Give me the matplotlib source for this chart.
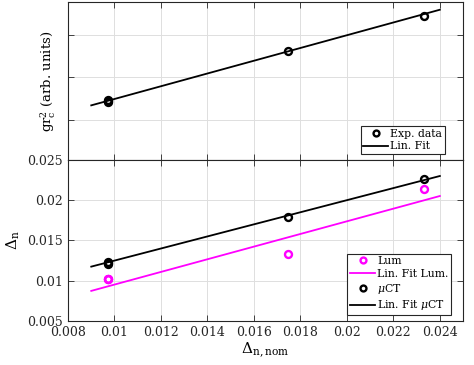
import matplotlib.pyplot as plt

plt.rcParams["font.family"] = "DejaVu Serif"
plt.rcParams["mathtext.fontset"] = "dejavuserif"
plt.rcParams["font.size"] = 9

# Data
x_pts = [0.00973, 0.00973, 0.00973, 0.01745, 0.02331]
gr2_pts = [1.465, 1.44, 1.411, 2.629, 3.456]
ct_pts = [0.0123, 0.01215, 0.0120, 0.01795, 0.02264]
lum_pts = [0.01016, 0.01016, 0.01016, 0.01331, 0.02136]

fit_x = [0.009, 0.024]
fit_gr2 = [1.340, 3.597]
fit_ct = [0.01173, 0.02301]
fit_lum = [0.00871, 0.02052]

xticks = [0.008, 0.010, 0.012, 0.014, 0.016, 0.018, 0.020, 0.022, 0.024]
xticklabels = ["0.008", "0.01", "0.012", "0.014", "0.016", "0.018", "0.02", "0.022", "0.024"]
yticks = [0.005, 0.010, 0.015, 0.020, 0.025]
yticklabels = ["0.005", "0.01", "0.015", "0.02", "0.025"]

fig = plt.figure(figsize=(4.74, 3.65), dpi=100)
ax1 = fig.add_axes([0.1435, 0.5616, 0.8335, 0.433])
ax2 = fig.add_axes([0.1435, 0.1214, 0.8335, 0.4402])

mk = dict(marker="o", linestyle="none", markersize=5, markerfacecolor="none",
          markeredgewidth=1.7)

ax1.plot(x_pts, gr2_pts, color="black", label="Exp. data", **mk)
ax1.plot(fit_x, fit_gr2, color="black", lw=1.3, label="Lin. Fit")
ax1.set_ylim(0.05, 3.78)
ax1.set_yticks([1, 2, 3])
ax1.set_yticklabels([])
ax1.set_ylabel(r"$\mathrm{gr_c^2}$ (arb. units)", fontsize=9.5)

ax2.plot(x_pts, lum_pts, color="#ff00ff", label="Lum", **mk)
ax2.plot(fit_x, fit_lum, color="#ff00ff", lw=1.3, label="Lin. Fit Lum.")
ax2.plot(x_pts, ct_pts, color="black", label=r"$\mu$CT", **mk)
ax2.plot(fit_x, fit_ct, color="black", lw=1.3, label=r"Lin. Fit $\mu$CT")
ax2.set_ylim(0.005, 0.025)
ax2.set_yticks(yticks)
ax2.set_yticklabels(yticklabels)
ax2.set_ylabel(r"$\Delta_\mathrm{n}$", fontsize=11)
ax2.set_xlabel(r"$\Delta_\mathrm{n,nom}$", fontsize=11, labelpad=1)

anchors = [(0.954, 0.038), (0.970, 0.035)]
for ax, anc in zip((ax1, ax2), anchors):
    ax.set_xlim(0.008, 0.025)
    ax.set_xticks(xticks)
    ax.grid(True, color="#dedede", lw=0.7)
    ax.set_axisbelow(True)
    ax.tick_params(direction="in", top=True, right=True, length=4, width=0.6,
                   colors="#262626", labelcolor="#262626")
    for s in ax.spines.values():
        s.set_color("#262626")
        s.set_linewidth(0.8)
    leg = ax.legend(loc="lower right", bbox_to_anchor=anc, fancybox=False,
                    edgecolor="#262626", framealpha=1, handlelength=2.3,
                    handletextpad=0.2, borderpad=0.25, labelspacing=0.25,
                    borderaxespad=0, fontsize=7.8, markerscale=0.85)
    leg.get_frame().set_linewidth(0.8)

ax1.set_xticklabels([])
ax2.set_xticklabels(xticklabels)

fig.savefig("out.png", dpi=100)
